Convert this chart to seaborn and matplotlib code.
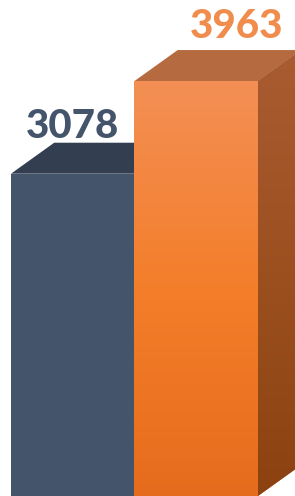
import numpy as np
import pandas as pd
import matplotlib
matplotlib.use("Agg")
import matplotlib.pyplot as plt
from matplotlib.patches import Polygon
from matplotlib.colors import LinearSegmentedColormap
import seaborn as sns

# data
categories = ["A", "B"]
values = [3078, 3963]
label_colors = ["#44546A", "#F08C4C"]
front_colors = ["#44546A", "#F27F2E"]
top_colors = ["#333F50", "#B66A3F"]

df = pd.DataFrame({"cat": categories, "val": values})

sns.set_style("white")
plt.rcParams["font.family"] = ["Lato", "DejaVu Sans"]

fig = plt.figure(figsize=(2.95, 4.96), dpi=100)
ax = fig.add_axes([0, 0, 1, 1])
sns.barplot(data=df, x="cat", y="val", hue="cat", palette=front_colors,
            width=1.0, legend=False, ax=ax, saturation=1)
ax.axis("off")

# depth of the 3D box in data units
dx, dy = 0.35, 296
# label offsets
label_shift_x = [0.0, 0.33]
label_shift_y = [45, 115]

front_grad = LinearSegmentedColormap.from_list("fg", ["#E56C1C", "#F47E2A", "#F38F55"])
side_grad = LinearSegmentedColormap.from_list("sg", ["#8C4210", "#9C5020", "#A95C31"])

for i, patch in enumerate(ax.patches[:2]):
    x0 = patch.get_x()
    x1 = x0 + patch.get_width()
    h = patch.get_height()
    patch.set_edgecolor("none")
    z = 2 + i * 3
    patch.set_zorder(z)
    # top face
    top = Polygon([(x0, h), (x0 + dx, h + dy), (x1 + dx, h + dy), (x1, h)],
                  closed=True, facecolor=top_colors[i], edgecolor="none", zorder=z)
    ax.add_patch(top)
    if i == 1:
        # gradient on front
        grad = np.linspace(0, 1, 256).reshape(-1, 1)
        im = ax.imshow(grad, cmap=front_grad, aspect="auto", origin="lower",
                       extent=(x0, x1, 0, h), zorder=z + 0.5)
        im.set_clip_path(patch)
        # side face
        side = Polygon([(x1, 0), (x1 + dx, dy), (x1 + dx, h + dy), (x1, h)],
                       closed=True, facecolor="#9B5020", edgecolor="none", zorder=z)
        ax.add_patch(side)
        im2 = ax.imshow(grad, cmap=side_grad, aspect="auto", origin="lower",
                        extent=(x1, x1 + dx, 0, h + dy), zorder=z + 0.5)
        im2.set_clip_path(side)
    # value label
    ax.text((x0 + x1) / 2 + label_shift_x[i], h + dy + label_shift_y[i], str(values[i]),
            ha="center", va="baseline", fontsize=29, fontweight="black",
            color=label_colors[i], zorder=10)

ax.set_xlim(-0.589, 1.80)
ax.set_ylim(0, 4737)
fig.savefig("out.png", dpi=100)
